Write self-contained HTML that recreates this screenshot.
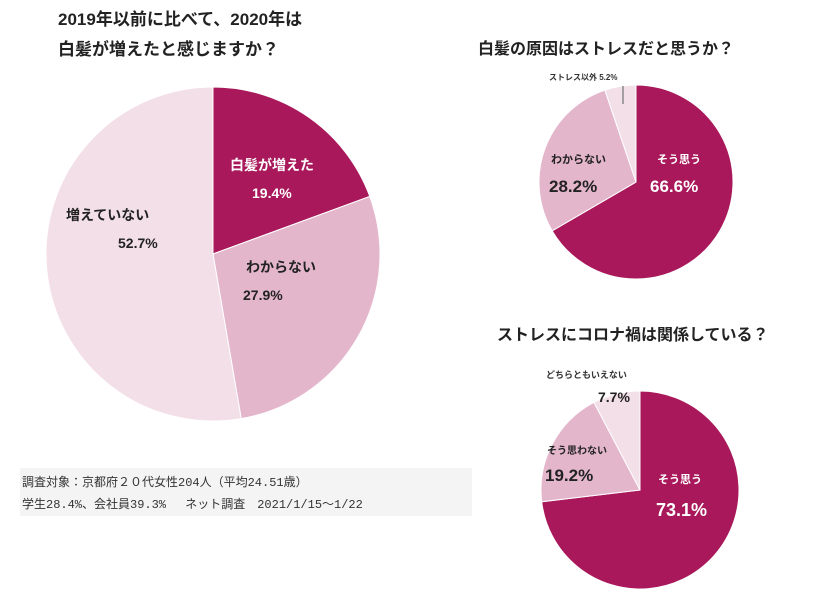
<!DOCTYPE html>
<html><head><meta charset="utf-8">
<style>
body{margin:0;background:#fff;width:840px;height:595px;overflow:hidden;font-family:"Liberation Sans","Noto Sans CJK JP",sans-serif;}
svg text{font-family:"Liberation Sans","Noto Sans CJK JP",sans-serif;font-weight:bold;}
svg text.mono{font-family:"Liberation Mono","Noto Sans CJK JP",monospace;font-weight:normal;}
</style></head>
<body>
<svg id="chart" width="840" height="595">
  <text x="58" y="25" font-size="17" fill="#222">2019年以前に比べて、2020年は</text>
  <text x="58" y="55" font-size="17" fill="#222">白髪が増えたと感じますか？</text>
  <text x="478" y="54" font-size="16" fill="#222">白髪の原因はストレスだと思うか？</text>
  <text x="497" y="340" font-size="16" fill="#222">ストレスにコロナ禍は関係している？</text>
  <g id="pies"></g>
  <g>
    <text x="230" y="170" font-size="14" fill="#fff">白髪が増えた</text>
    <text x="252" y="198" font-size="14" fill="#fff" font-weight="normal">19.4%</text>
    <text x="246" y="272" font-size="14" fill="#222">わからない</text>
    <text x="243" y="300" font-size="14" fill="#222" font-weight="normal">27.9%</text>
    <text x="66" y="220" font-size="14" fill="#222">増えていない</text>
    <text x="118" y="248" font-size="14" fill="#222" font-weight="normal">52.7%</text>
  </g>
  <g>
    <text x="549" y="80" font-size="8" fill="#333">ストレス以外 5.2%</text>
    <line x1="623" y1="86" x2="623" y2="104" stroke="#888" stroke-width="1.5"/>
    <text x="657" y="163" font-size="11" fill="#fff">そう思う</text>
    <text x="650" y="192" font-size="17" fill="#fff" font-weight="normal">66.6%</text>
    <text x="551" y="163" font-size="11" fill="#222">わからない</text>
    <text x="549" y="192" font-size="17" fill="#222" font-weight="normal">28.2%</text>
  </g>
  <g>
    <text x="546" y="378" font-size="9" fill="#333">どちらともいえない</text>
    <text x="598" y="402" font-size="14" fill="#222" font-weight="normal">7.7%</text>
    <text x="547" y="454" font-size="10" fill="#222">そう思わない</text>
    <text x="545" y="481" font-size="17" fill="#222" font-weight="normal">19.2%</text>
    <text x="658" y="483" font-size="11" fill="#fff">そう思う</text>
    <text x="656" y="516" font-size="18" fill="#fff" font-weight="normal">73.1%</text>
  </g>
  <rect x="20" y="468" width="452" height="48" fill="#f4f4f4"/>
  <text class="mono" x="22" y="486" font-size="12" fill="#333">調査対象：京都府２０代女性204人（平均24.51歳）</text>
  <text class="mono" x="22" y="508" font-size="12" fill="#333">学生28.4%、会社員39.3%　 ネット調査　2021/1/15〜1/22</text>
</svg>
<script>
const mainCategories=["白髪が増えた","わからない","増えていない"];
const mainValues=[19.4,27.9,52.7];
const causeCategories=["そう思う","わからない","ストレス以外"];
const causeValues=[66.6,28.2,5.2];
const covidCategories=["そう思う","そう思わない","どちらともいえない"];
const covidValues=[73.1,19.2,7.7];
const colors=["#a8185a","#e4b6cc","#f3dfe7"];
const NS="http://www.w3.org/2000/svg";
const g=document.getElementById('pies');
function drawPie(name,cats,vals,cx,cy,r){
  const tot=vals.reduce((a,b)=>a+b,0);
  let a0=-Math.PI/2;
  vals.forEach((v,i)=>{
    const a1=a0+v/tot*2*Math.PI;
    const x0=cx+r*Math.cos(a0),y0=cy+r*Math.sin(a0),x1=cx+r*Math.cos(a1),y1=cy+r*Math.sin(a1);
    const p=document.createElementNS(NS,'path');
    p.setAttribute('d',`M${cx},${cy}L${x0},${y0}A${r},${r} 0 ${a1-a0>Math.PI?1:0} 1 ${x1},${y1}Z`);
    p.setAttribute('fill',colors[i]);
    p.setAttribute('stroke','#fff');
    p.setAttribute('stroke-width','1');
    
    
    g.appendChild(p);
    a0=a1;
  });
}
drawPie('main',mainCategories,mainValues,213,254,167);
drawPie('cause',causeCategories,causeValues,636,182,97);
drawPie('covid',covidCategories,covidValues,640,490,99);
</script>
</body></html>
